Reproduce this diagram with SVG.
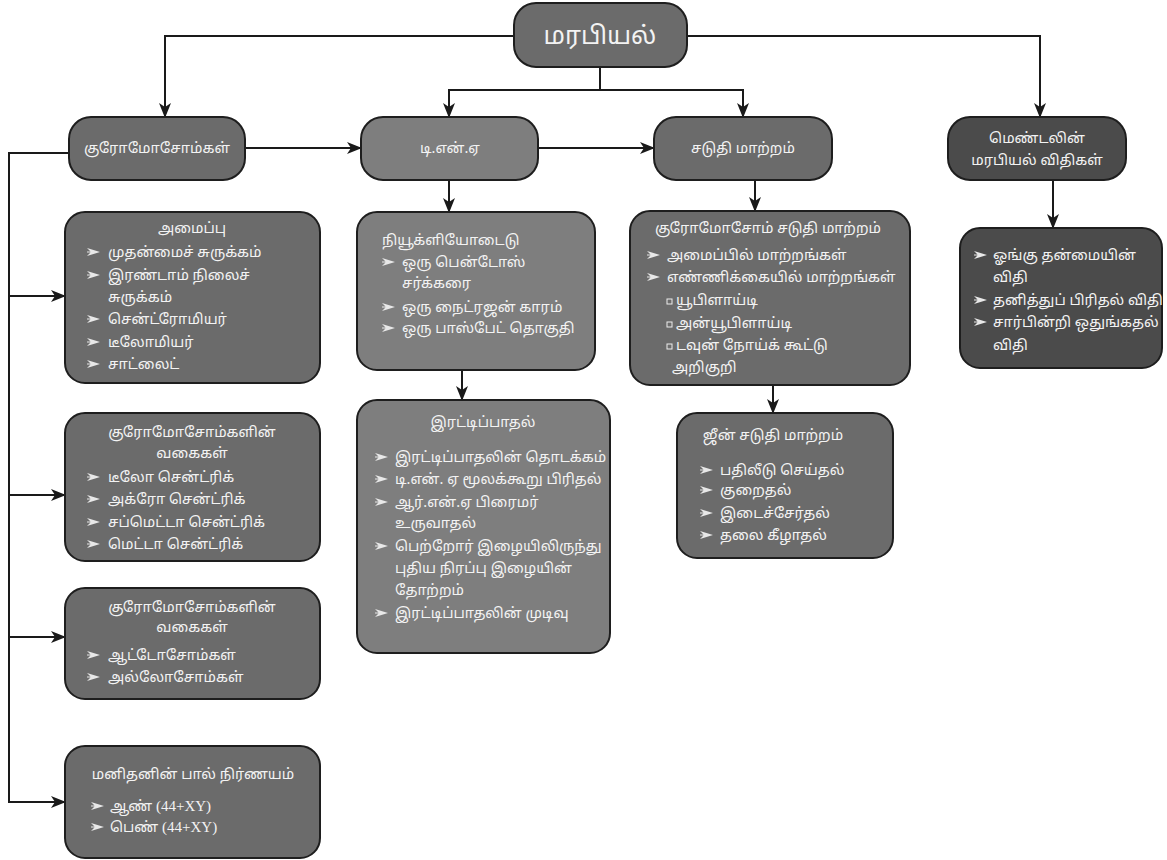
<svg xmlns="http://www.w3.org/2000/svg" width="1167" height="860" viewBox="0 0 1167 860">
  <defs>
    <marker id="ah" viewBox="0 0 15 13" refX="14" refY="6.5" markerWidth="15" markerHeight="13" orient="auto" markerUnits="userSpaceOnUse">
      <path d="M0,0.5 L15,6.5 L0,12.5 L4,6.5 z" fill="#1a1a1a"/>
    </marker>
    <!-- list bullet: small feathered arrowhead -->
    <path id="b" d="M0,-4 L13,0 L0,4 L4,0 z M0,-0.6 H8 V0.6 H0 z" fill="#e8e8e8"/>
    <style>
      .box { stroke: #1e1e1e; stroke-width: 2; }
      .mid { fill: #6b6b6b; }
      .light { fill: #7e7e7e; }
      .dark { fill: #4b4b4b; }
      .t { font-family: "Noto Sans Tamil", "Lohit Tamil", "Noto Sans", "DejaVu Sans", sans-serif; font-size: 14.5px; fill: #f3f3f3; }
      .c { text-anchor: middle; }
      .big { font-size: 25px; }
      .num { font-family: "Liberation Serif", serif; font-size: 15px; }
      .edge { fill: none; stroke: #1a1a1a; stroke-width: 2; }
      .sq { fill: none; stroke: #ededed; stroke-width: 1; }
    </style>
  </defs>
  <rect width="1167" height="860" fill="#ffffff"/>

  <!-- connectors -->
  <g id="connectors">
    <path class="edge" d="M514,36 H165 V117" marker-end="url(#ah)"/>
    <path class="edge" d="M687,36 H1040 V117" marker-end="url(#ah)"/>
    <path class="edge" d="M600,67 V90 H449 V117" marker-end="url(#ah)"/>
    <path class="edge" d="M600,90 H743 V117" marker-end="url(#ah)"/>
    <path class="edge" d="M245,148 H361" marker-end="url(#ah)"/>
    <path class="edge" d="M538,148 H654" marker-end="url(#ah)"/>
    <path class="edge" d="M449,180 V212" marker-end="url(#ah)"/>
    <path class="edge" d="M462,370 V400" marker-end="url(#ah)"/>
    <path class="edge" d="M755,180 V211" marker-end="url(#ah)"/>
    <path class="edge" d="M773,385 V413" marker-end="url(#ah)"/>
    <path class="edge" d="M1053,180 V228" marker-end="url(#ah)"/>
    <path class="edge" d="M69,153 H9 V802 H65" marker-end="url(#ah)"/>
    <path class="edge" d="M9,296 H65" marker-end="url(#ah)"/>
    <path class="edge" d="M9,495 H65" marker-end="url(#ah)"/>
    <path class="edge" d="M9,637 H65" marker-end="url(#ah)"/>
  </g>

  <!-- root -->
  <g id="heredity">
    <rect class="box mid" x="514" y="3" width="173" height="64" rx="22"/>
    <text class="t c big" x="600" y="44">மரபியல்</text>
  </g>

  <!-- second row -->
  <g id="chromosomes">
    <rect class="box mid" x="69" y="117" width="176" height="63" rx="22"/>
    <text class="t c" x="157" y="153">குரோமோசோம்கள்</text>
  </g>
  <g id="dna">
    <rect class="box light" x="361" y="117" width="177" height="63" rx="22"/>
    <text class="t c" x="450" y="153">டி.என்.ஏ</text>
  </g>
  <g id="mutation">
    <rect class="box mid" x="654" y="117" width="178" height="63" rx="22"/>
    <text class="t c" x="743" y="153">சடுதி மாற்றம்</text>
  </g>
  <g id="mendel">
    <rect class="box dark" x="948" y="117" width="178" height="63" rx="22"/>
    <text class="t c" x="1037" y="143">மெண்டலின்</text>
    <text class="t c" x="1037" y="165">மரபியல் விதிகள்</text>
  </g>

  <!-- chromosome structure -->
  <g id="structure">
    <rect class="box mid" x="65" y="212" width="255" height="171" rx="20"/>
    <text class="t c" x="192" y="233">அமைப்பு</text>
    <use href="#b" x="87" y="252"/><text class="t" x="108" y="257">முதன்மைச் சுருக்கம்</text>
    <use href="#b" x="87" y="275"/><text class="t" x="108" y="280">இரண்டாம் நிலைச்</text>
    <text class="t" x="108" y="302">சுருக்கம்</text>
    <use href="#b" x="87" y="319"/><text class="t" x="108" y="324">சென்ட்ரோமியர்</text>
    <use href="#b" x="87" y="342"/><text class="t" x="108" y="347">டீலோமியர்</text>
    <use href="#b" x="87" y="364"/><text class="t" x="108" y="369">சாட்லைட்</text>
  </g>

  <!-- chromosome types by centromere -->
  <g id="types-centromere">
    <rect class="box mid" x="65" y="413" width="255" height="148" rx="20"/>
    <text class="t c" x="192" y="437">குரோமோசோம்களின்</text>
    <text class="t c" x="192" y="458">வகைகள்</text>
    <use href="#b" x="87" y="477"/><text class="t" x="108" y="482">டீலோ சென்ட்ரிக்</text>
    <use href="#b" x="87" y="499"/><text class="t" x="108" y="504">அக்ரோ சென்ட்ரிக்</text>
    <use href="#b" x="87" y="522"/><text class="t" x="108" y="527">சப்மெட்டா சென்ட்ரிக்</text>
    <use href="#b" x="87" y="544"/><text class="t" x="108" y="549">மெட்டா சென்ட்ரிக்</text>
  </g>

  <!-- chromosome types by function -->
  <g id="types-function">
    <rect class="box mid" x="65" y="588" width="255" height="111" rx="20"/>
    <text class="t c" x="192" y="612">குரோமோசோம்களின்</text>
    <text class="t c" x="192" y="632">வகைகள்</text>
    <use href="#b" x="87" y="655"/><text class="t" x="108" y="660">ஆட்டோசோம்கள்</text>
    <use href="#b" x="87" y="677"/><text class="t" x="108" y="682">அல்லோசோம்கள்</text>
  </g>

  <!-- sex determination -->
  <g id="sex-determination">
    <rect class="box mid" x="65" y="746" width="255" height="112" rx="20"/>
    <text class="t c" x="193" y="779">மனிதனின் பால் நிர்ணயம்</text>
    <use href="#b" x="91" y="806"/><text class="t" x="110" y="811">ஆண் <tspan class="num">(44+XY)</tspan></text>
    <use href="#b" x="91" y="827"/><text class="t" x="110" y="832">பெண் <tspan class="num">(44+XY)</tspan></text>
  </g>

  <!-- nucleotide -->
  <g id="nucleotide">
    <rect class="box light" x="357" y="212" width="238" height="158" rx="20"/>
    <text class="t" x="382" y="245">நியூக்ளியோடைடு</text>
    <use href="#b" x="382" y="262"/><text class="t" x="402" y="267">ஒரு பென்டோஸ்</text>
    <text class="t" x="402" y="288">சர்க்கரை</text>
    <use href="#b" x="382" y="307"/><text class="t" x="402" y="312">ஒரு நைட்ரஜன் காரம்</text>
    <use href="#b" x="382" y="328"/><text class="t" x="402" y="333">ஒரு பாஸ்பேட் தொகுதி</text>
  </g>

  <!-- replication -->
  <g id="replication">
    <rect class="box light" x="357" y="400" width="253" height="253" rx="20"/>
    <text class="t c" x="483" y="427">இரட்டிப்பாதல்</text>
    <use href="#b" x="375" y="457"/><text class="t" x="395" y="462">இரட்டிப்பாதலின் தொடக்கம்</text>
    <use href="#b" x="375" y="479"/><text class="t" x="395" y="484">டி.என். ஏ மூலக்கூறு பிரிதல்</text>
    <use href="#b" x="375" y="502"/><text class="t" x="395" y="507">ஆர்.என்.ஏ பிரைமர்</text>
    <text class="t" x="395" y="528">உருவாதல்</text>
    <use href="#b" x="375" y="546"/><text class="t" x="395" y="551">பெற்றோர் இழையிலிருந்து</text>
    <text class="t" x="395" y="573">புதிய நிரப்பு இழையின்</text>
    <text class="t" x="395" y="595">தோற்றம்</text>
    <use href="#b" x="375" y="613"/><text class="t" x="395" y="618">இரட்டிப்பாதலின் முடிவு</text>
  </g>

  <!-- chromosomal mutation -->
  <g id="chromosomal-mutation">
    <rect class="box mid" x="630" y="211" width="280" height="174" rx="20"/>
    <text class="t" x="655" y="233">குரோமோசோம் சடுதி மாற்றம்</text>
    <use href="#b" x="647" y="255"/><text class="t" x="667" y="260">அமைப்பில் மாற்றங்கள்</text>
    <use href="#b" x="647" y="277"/><text class="t" x="667" y="282">எண்ணிக்கையில் மாற்றங்கள்</text>
    <rect class="sq" x="667" y="299" width="5" height="5"/><text class="t" x="676" y="305">யூபிளாய்டி</text>
    <rect class="sq" x="667" y="322" width="5" height="5"/><text class="t" x="676" y="328">அன்யூபிளாய்டி</text>
    <rect class="sq" x="667" y="344" width="5" height="5"/><text class="t" x="676" y="350">டவுன் நோய்க் கூட்டு</text>
    <text class="t" x="672" y="372">அறிகுறி</text>
  </g>

  <!-- gene mutation -->
  <g id="gene-mutation">
    <rect class="box mid" x="677" y="413" width="216" height="145" rx="20"/>
    <text class="t c" x="773" y="440">ஜீன் சடுதி மாற்றம்</text>
    <use href="#b" x="700" y="470"/><text class="t" x="720" y="475">பதிலீடு செய்தல்</text>
    <use href="#b" x="700" y="490"/><text class="t" x="720" y="495">குறைதல்</text>
    <use href="#b" x="700" y="513"/><text class="t" x="720" y="518">இடைச்சேர்தல்</text>
    <use href="#b" x="700" y="535"/><text class="t" x="720" y="540">தலை கீழாதல்</text>
  </g>

  <!-- Mendel's laws -->
  <g id="mendel-laws">
    <rect class="box dark" x="960" y="228" width="202" height="140" rx="20"/>
    <use href="#b" x="974" y="255"/><text class="t" x="993" y="260">ஓங்கு தன்மையின்</text>
    <text class="t" x="993" y="282">விதி</text>
    <use href="#b" x="974" y="300"/><text class="t" x="993" y="305">தனித்துப் பிரிதல் விதி</text>
    <use href="#b" x="974" y="322"/><text class="t" x="993" y="327">சார்பின்றி ஒதுங்கதல்</text>
    <text class="t" x="993" y="350">விதி</text>
  </g>
</svg>
